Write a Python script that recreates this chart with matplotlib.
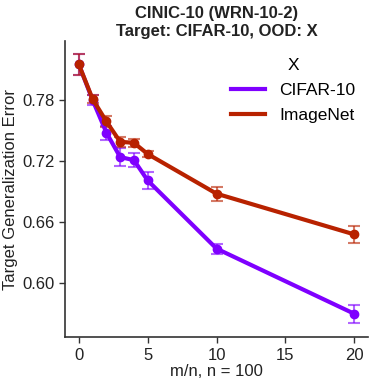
import numpy as np
import matplotlib
matplotlib.use('Agg')
import matplotlib.pyplot as plt

# m/n ratios (n = 100)
ratios = [0, 1, 2, 3, 4, 5, 10, 20]

cifar_err = [0.815, 0.780, 0.748, 0.724, 0.721, 0.701, 0.634, 0.570]
cifar_sd = [0.010, 0.005, 0.007, 0.009, 0.007, 0.008, 0.005, 0.009]

imnet_err = [0.815, 0.781, 0.759, 0.739, 0.738, 0.727, 0.688, 0.648]
imnet_sd = [0.010, 0.004, 0.005, 0.005, 0.004, 0.003, 0.007, 0.008]

series = [('CIFAR-10', cifar_err, cifar_sd, '#7f00ff'),
          ('ImageNet', imnet_err, imnet_sd, '#b82200')]

plt.rcParams['font.family'] = ['Liberation Sans', 'DejaVu Sans']

fig = plt.figure(figsize=(3.74, 3.84), dpi=100)
ax = fig.add_axes([0.174, 0.122, 0.81, 0.771])

for name, vals, sd, col in series:
    ax.plot(ratios, vals, '-o', color=col, lw=3, ms=6, label=name, zorder=3)
    ax.errorbar(ratios, vals, yerr=sd, fmt='none', ecolor=col, alpha=0.6,
                elinewidth=1.5, capsize=4, capthick=1.5, zorder=2)

ax.set_xlim(-1, 21)
ax.set_ylim(0.547, 0.838)
ax.set_xticks([0, 5, 10, 15, 20])
ax.set_yticks([0.60, 0.66, 0.72, 0.78])
ax.set_yticklabels(['0.60', '0.66', '0.72', '0.78'])
ax.tick_params(labelsize=12, length=4, width=1, color='#333333', labelcolor='#222222')
for s in ['top', 'right']:
    ax.spines[s].set_visible(False)
for s in ['left', 'bottom']:
    ax.spines[s].set_color('#333333')
    ax.spines[s].set_linewidth(1.2)

ax.set_xlabel('m/n, n = 100', fontsize=12, color='#222222', labelpad=1)
ax.set_ylabel('Target Generalization Error', fontsize=12, color='#222222', labelpad=3)
ax.set_title('CINIC-10 (WRN-10-2)\nTarget: CIFAR-10, OOD: X', fontsize=12,
             fontweight='bold', color='#222222', pad=4, linespacing=1.25)

leg = ax.legend(title='X', frameon=False, fontsize=12.5, title_fontsize=12.5,
                loc='upper right', bbox_to_anchor=(1.01, 0.995),
                handlelength=2.0, handletextpad=0.8, labelspacing=0.55)
for h in leg.get_lines():
    h.set_marker('')
    h.set_linewidth(3)

fig.savefig('out.png', dpi=100)
